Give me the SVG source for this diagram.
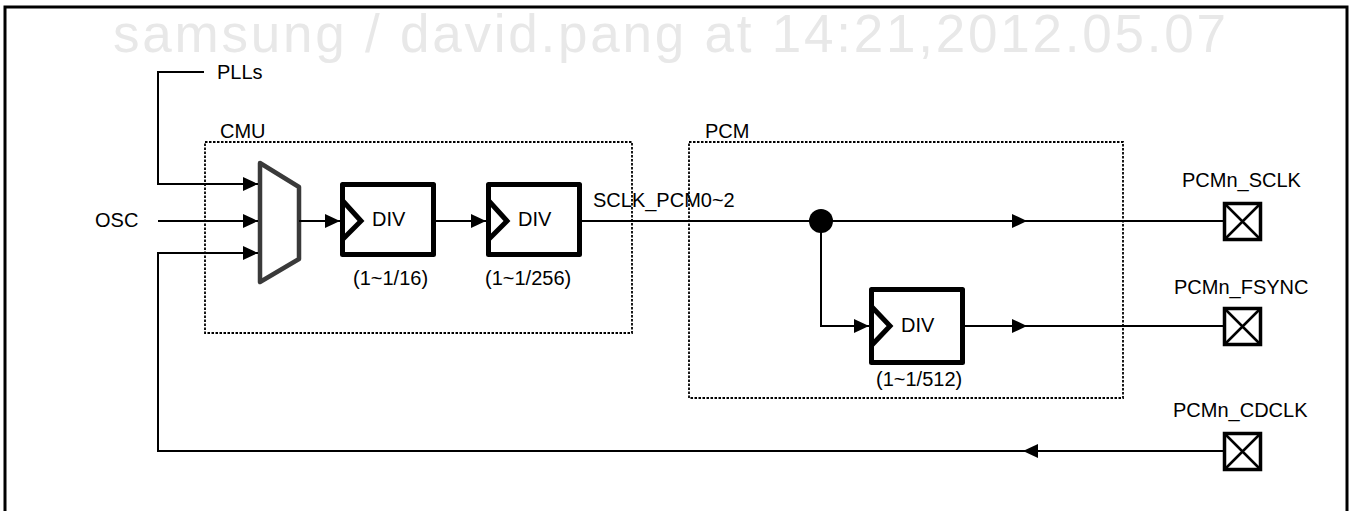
<svg xmlns="http://www.w3.org/2000/svg" width="1353" height="511" viewBox="0 0 1353 511">
<style>
text{font-family:"Liberation Sans",Arial,sans-serif;font-size:20px;fill:#000}
.wm{font-size:53px;fill:#e8e8e8}
.ln{fill:none;stroke:#000;stroke-width:2}
.dash{fill:none;stroke:#000;stroke-width:1.8;stroke-dasharray:2.5 1.5}
.div{fill:#fff;stroke:#000;stroke-width:5;stroke-linejoin:round}
.notch{fill:none;stroke:#000;stroke-width:5;stroke-linejoin:miter}
.pad{fill:#fff;stroke:#000;stroke-width:3.5}
.padx{stroke:#000;stroke-width:2.5}
</style>
<defs>
<marker id="ah" viewBox="0 0 15 14" refX="15" refY="7" markerWidth="15" markerHeight="14" markerUnits="userSpaceOnUse" orient="auto">
<path d="M0,0 L15,7 L0,14 Z" fill="#000"/>
</marker>
</defs>
<rect x="5" y="7" width="1342" height="520" fill="#fff" stroke="#000" stroke-width="3"/>
<text class="wm" x="113" y="52" textLength="1113">samsung / david.pang at 14:21,2012.05.07</text>
<g id="cmu">
<rect class="dash" x="205" y="142" width="427" height="191"/>
<text x="220" y="138">CMU</text>
</g>
<g id="pcm">
<rect class="dash" x="689" y="142" width="434" height="256"/>
<text x="705" y="138">PCM</text>
</g>
<g id="pll-label"><text x="217" y="79">PLLs</text></g>
<g id="osc-label"><text x="95" y="227">OSC</text></g>
<g id="sclk-label"><text x="593" y="207">SCLK_PCM0~2</text></g>
<g id="mux">
<polygon points="260,163 299,187 299,259 260,282" fill="#fff" stroke="#3a3a3a" stroke-width="4.5" stroke-linejoin="round"/>
</g>
<g id="div1">
<rect class="div" x="342.5" y="184.5" width="91" height="70"/>
<polyline class="notch" points="342,200 361,221 342,240"/>
<text x="372" y="226">DIV</text>
<text x="353" y="285">(1~1/16)</text>
</g>
<g id="div2">
<rect class="div" x="488.5" y="184.5" width="91" height="70"/>
<polyline class="notch" points="488,200 507,221 488,240"/>
<text x="518" y="226">DIV</text>
<text x="485" y="285">(1~1/256)</text>
</g>
<g id="div3">
<rect class="div" x="871.5" y="289.5" width="91" height="73"/>
<polyline class="notch" points="871,306 890,326 871,346"/>
<text x="901" y="332">DIV</text>
<text x="876" y="386">(1~1/512)</text>
</g>
<g id="pad-sclk">
<text x="1182" y="187">PCMn_SCLK</text>
<rect class="pad" x="1224.5" y="203.5" width="36" height="36"/>
<path class="padx" d="M1224.5,203.5 L1260.5,239.5 M1260.5,203.5 L1224.5,239.5"/>
</g>
<g id="pad-fsync">
<text x="1174" y="294">PCMn_FSYNC</text>
<rect class="pad" x="1224.5" y="308.5" width="36" height="36"/>
<path class="padx" d="M1224.5,308.5 L1260.5,344.5 M1260.5,308.5 L1224.5,344.5"/>
</g>
<g id="pad-cdclk">
<text x="1173" y="417">PCMn_CDCLK</text>
<rect class="pad" x="1224.5" y="433.5" width="36" height="36"/>
<path class="padx" d="M1224.5,433.5 L1260.5,469.5 M1260.5,433.5 L1224.5,469.5"/>
</g>
<g id="junction"><circle cx="821" cy="221" r="12" fill="#000"/></g>
<g id="connectors">
<polyline class="ln" points="204,72 158,72 158,184 258,184" marker-end="url(#ah)"/>
<line class="ln" x1="158" y1="221" x2="258" y2="221" marker-end="url(#ah)"/>
<polyline class="ln" points="1223,451 1023,451" marker-end="url(#ah)"/>
<polyline class="ln" points="1024,451 158,451 158,253 258,253" marker-end="url(#ah)"/>
<line class="ln" x1="299" y1="221" x2="340" y2="221" marker-end="url(#ah)"/>
<line class="ln" x1="436" y1="221" x2="486" y2="221" marker-end="url(#ah)"/>
<line class="ln" x1="582" y1="221" x2="1027" y2="221" marker-end="url(#ah)"/>
<line class="ln" x1="1026" y1="221" x2="1223" y2="221"/>
<polyline class="ln" points="821,221 821,326 869,326" marker-end="url(#ah)"/>
<line class="ln" x1="965" y1="326" x2="1027" y2="326" marker-end="url(#ah)"/>
<line class="ln" x1="1026" y1="326" x2="1223" y2="326"/>
</g>
</svg>
